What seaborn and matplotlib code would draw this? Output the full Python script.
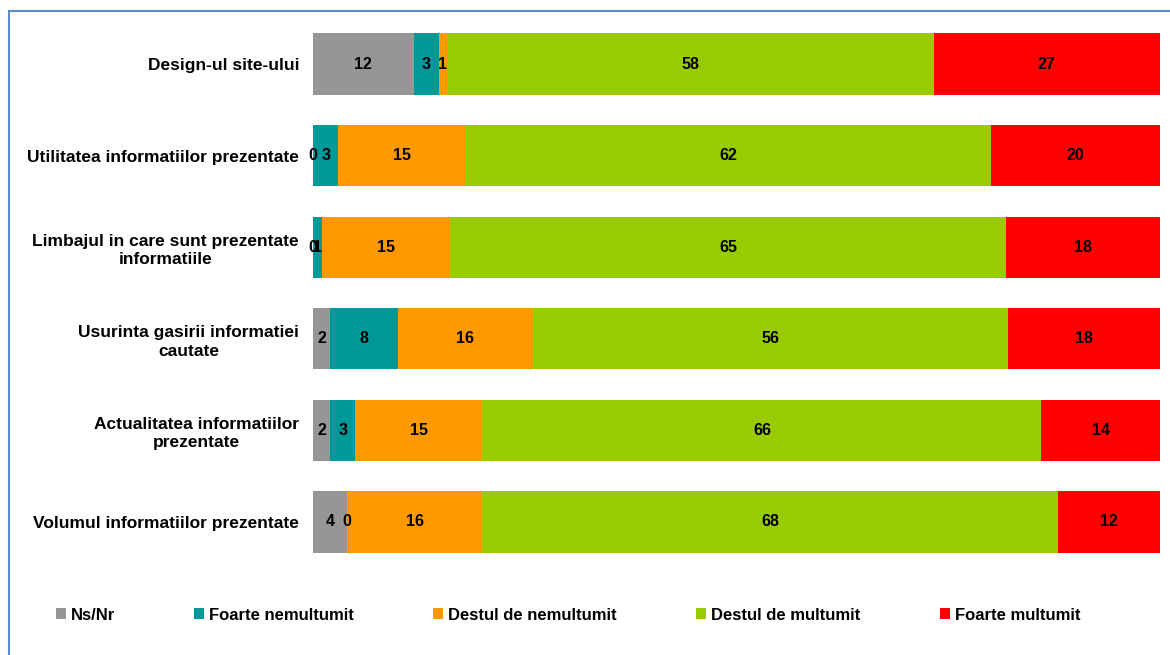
import matplotlib
matplotlib.use("Agg")
import matplotlib.pyplot as plt
from matplotlib.patches import Patch, Rectangle
import seaborn as sns
import numpy as np
import pandas as pd

categories = [
    "Design-ul site-ului",
    "Utilitatea informatiilor prezentate",
    "Limbajul in care sunt prezentate\ninformatiile",
    "Usurinta gasirii informatiei\ncautate",
    "Actualitatea informatiilor\nprezentate",
    "Volumul informatiilor prezentate",
]
series_names = ["Ns/Nr", "Foarte nemultumit", "Destul de nemultumit",
                "Destul de multumit", "Foarte multumit"]
ns_nr = [12, 0, 0, 2, 2, 4]
foarte_nemultumit = [3, 3, 1, 8, 3, 0]
destul_nemultumit = [1, 15, 15, 16, 15, 16]
destul_multumit = [58, 62, 65, 56, 66, 68]
foarte_multumit = [27, 20, 18, 18, 14, 12]
colors = ["#969696", "#009999", "#FF9900", "#99CC00", "#FF0000"]

sns.set_theme(style="white")
plt.rcParams["font.family"] = ["Liberation Sans", "DejaVu Sans"]
plt.rcParams["text.color"] = "black"

vals = np.array([ns_nr, foarte_nemultumit, destul_nemultumit,
                 destul_multumit, foarte_multumit], dtype=float)
totals = vals.sum(axis=0)
pct = vals / totals * 100
cum = np.cumsum(pct, axis=0)

fig = plt.figure(figsize=(11.7, 6.55), dpi=100)
ax = fig.add_axes([313 / 1170, 1 - 567.8 / 655, (1160 - 313) / 1170, (567.8 - 18.2) / 655])

for i in range(len(series_names) - 1, -1, -1):
    df = pd.DataFrame({"cat": categories, "v": cum[i]})
    sns.barplot(data=df, y="cat", x="v", color=colors[i], width=0.67,
                linewidth=0, saturation=1, ax=ax, orient="h")

for j in range(len(categories)):
    for i in range(len(series_names)):
        start = cum[i - 1, j] if i > 0 else 0.0
        mid = start + pct[i, j] / 2
        ax.text(mid, j, f"{int(vals[i, j])}", ha="center", va="center",
                fontsize=11.5, fontweight="bold", color="black")

ax.set_xlim(0, 100)
ax.set_ylim(len(categories) - 0.5, -0.5)
ax.set_xlabel("")
ax.set_ylabel("")
ax.set_xticks([])
for s in ax.spines.values():
    s.set_visible(False)
ax.tick_params(axis="y", length=0, pad=10)
for lab in ax.get_yticklabels():
    lab.set_fontweight("bold")
    lab.set_fontsize(12.5)
    lab.set_multialignment("center")
    lab.set_linespacing(1.3)
    lab.set_color("black")

handles = [Patch(facecolor=c, edgecolor="none", label=n) for c, n in zip(colors, series_names)]
fig.legend(handles=handles, loc="center left", bbox_to_anchor=(56 / 1170, 1 - 615 / 655),
           ncol=5, frameon=False, borderpad=0, borderaxespad=0,
           handlelength=0.6, handleheight=0.6, handletextpad=0.3,
           columnspacing=4.75, labelcolor="black",
           prop={"weight": "bold", "size": 12})

fig.patches.append(Rectangle((9 / 1170, -0.2), 1.2, 1.2 - 11 / 655,
                             transform=fig.transFigure, fill=False,
                             edgecolor="#5B8BC9", linewidth=1.5))

fig.savefig("out.png", dpi=100)
